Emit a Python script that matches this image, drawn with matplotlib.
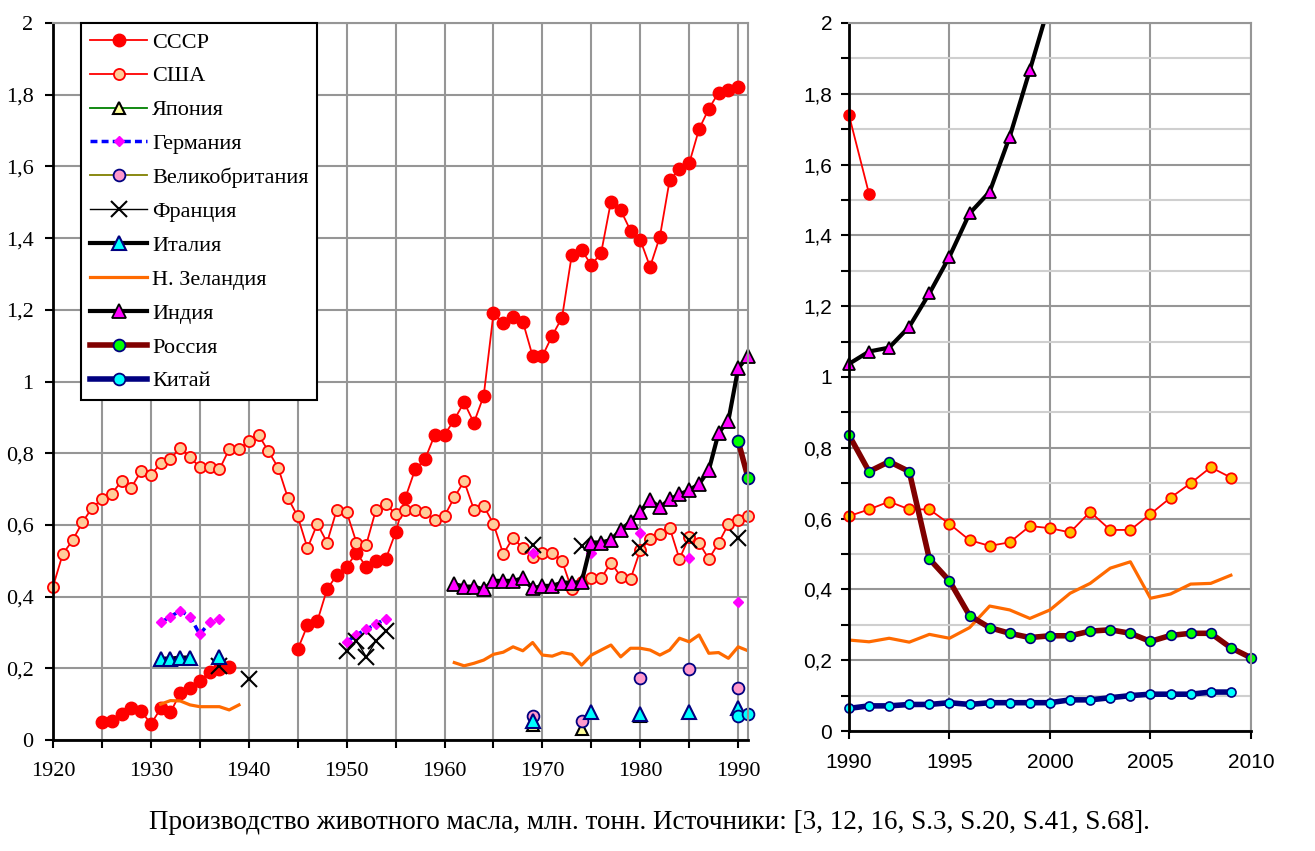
import matplotlib.pyplot as plt
import numpy as np
from matplotlib.ticker import FuncFormatter, MultipleLocator

nan = np.nan

# ---------- left panel: 1920 - 1991 ----------
ussr_years = list(range(1925, 1939)) + [1940] + list(range(1945, 1991))
ussr = [0.049, 0.054, 0.073, 0.088, 0.082, 0.044, 0.088, 0.077, 0.131, 0.144,
        0.165, 0.190, 0.197, 0.203,
        nan,
        0.253, 0.320, 0.331, 0.421, 0.460, 0.483, 0.523, 0.483, 0.500, 0.505,
        0.579, 0.676, 0.755, 0.783, 0.851, 0.851, 0.894, 0.942, 0.885, 0.960,
        1.190, 1.162, 1.179, 1.167, 1.071, 1.071, 1.128, 1.178, 1.353, 1.367,
        1.325, 1.359, 1.502, 1.478, 1.421, 1.395, 1.320, 1.404, 1.562, 1.592,
        1.609, 1.704, 1.761, 1.806, 1.813, 1.822]

usa_years = list(range(1920, 1992))
usa = [0.428, 0.519, 0.557, 0.607, 0.648, 0.671, 0.687, 0.722, 0.704, 0.750,
       0.738, 0.773, 0.784, 0.816, 0.789, 0.761, 0.761, 0.755, 0.811, 0.811,
       0.834, 0.851, 0.806, 0.760, 0.675, 0.624, 0.535, 0.603, 0.551, 0.643,
       0.636, 0.551, 0.545, 0.643, 0.659, 0.630, 0.643, 0.643, 0.636, 0.614,
       0.625, 0.677, 0.722, 0.643, 0.653, 0.603, 0.519, 0.564, 0.535, 0.511,
       0.523, 0.523, 0.500, 0.420, 0.440, 0.451, 0.451, 0.495, 0.456, 0.449,
       0.530, 0.560, 0.575, 0.592, 0.505, 0.567, 0.550, 0.505, 0.550, 0.602,
       0.614, 0.625]

japan_years = [1969, 1970, 1974, 1975, 1980]
japan = [0.042, nan, 0.030, nan, 0.068]

germany_years = list(range(1931, 1938)) + [1940] + list(range(1950, 1955)) + \
    [1960, 1969, 1970, 1975, 1976, 1980, 1981, 1985, 1986, 1990]
germany = [0.328, 0.344, 0.361, 0.344, 0.295, 0.328, 0.337,
           nan,
           0.274, 0.293, 0.309, 0.323, 0.339,
           nan, 0.521, nan, 0.521, nan, 0.578, nan, 0.509, nan, 0.386]

uk_years = [1969, 1970, 1974, 1975, 1980, 1981, 1985, 1986, 1990]
uk = [0.067, nan, 0.054, nan, 0.174, nan, 0.197, nan, 0.146]

france_years = [1937, 1938, 1940, 1945] + list(range(1950, 1955)) + \
    [1960, 1969, 1970, 1974, 1975, 1980, 1981, 1985, 1986, 1990]
france = [0.206, nan, 0.169, nan,
          0.249, 0.277, 0.232, 0.277, 0.305,
          nan, 0.544, nan, 0.542, nan, 0.535, nan, 0.558, nan, 0.564]

italy_years = [1931, 1932, 1933, 1934, 1935, 1937, 1938, 1969, 1970, 1975,
               1976, 1980, 1981, 1985, 1986, 1990]
italy = [0.227, 0.227, 0.230, 0.230, nan, 0.232, nan, 0.054, nan, 0.079,
         nan, 0.074, nan, 0.079, nan, 0.088]

nz_years = list(range(1931, 1940)) + [1950] + list(range(1961, 1992))
nz = [0.100, 0.110, 0.109, 0.098, 0.093, 0.093, 0.093, 0.084, 0.098,
      nan,
      0.216, 0.207, 0.214, 0.223, 0.239, 0.245, 0.260, 0.249, 0.272, 0.237,
      0.234, 0.244, 0.239, 0.209, 0.237, 0.251, 0.265, 0.232, 0.256, 0.256,
      0.251, 0.237, 0.251, 0.284, 0.274, 0.293, 0.242, 0.244, 0.228, 0.260,
      0.249]

india_years = list(range(1961, 1992))
india = [0.435, 0.428, 0.428, 0.420, 0.444, 0.444, 0.444, 0.451, 0.423, 0.430,
         0.430, 0.439, 0.439, 0.440, 0.551, 0.551, 0.558, 0.586, 0.609, 0.637,
         0.669, 0.649, 0.671, 0.685, 0.697, 0.714, 0.753, 0.857, 0.891, 1.037,
         1.071]

russia_years = [1990, 1991]
russia = [0.834, 0.732]

china_years = [1990, 1991]
china = [0.067, 0.072]

# ---------- right panel: 1990 - 2010 ----------
ussr_r_years = [1990, 1991]
ussr_r = [1.740, 1.517]

usa_r_years = list(range(1990, 2010))
usa_r = [0.607, 0.626, 0.648, 0.626, 0.626, 0.585, 0.539, 0.523, 0.533, 0.579,
         0.573, 0.561, 0.619, 0.568, 0.568, 0.613, 0.659, 0.700, 0.745, 0.716]

nz_r_years = list(range(1990, 2010))
nz_r = [0.257, 0.252, 0.262, 0.251, 0.273, 0.262, 0.292, 0.353, 0.342, 0.318,
        0.342, 0.389, 0.417, 0.460, 0.478, 0.375, 0.387, 0.415, 0.417, 0.440]

india_r_years = list(range(1990, 2001))
india_r = [1.037, 1.072, 1.083, 1.142, 1.236, 1.340, 1.462, 1.523, 1.679,
           1.867, 2.06]

russia_r_years = list(range(1990, 2011))
russia_r = [0.836, 0.733, 0.761, 0.733, 0.486, 0.424, 0.326, 0.292, 0.276,
            0.264, 0.269, 0.269, 0.282, 0.286, 0.276, 0.253, 0.270, 0.276,
            0.276, 0.235, 0.207]

china_r_years = list(range(1990, 2010))
china_r = [0.064, 0.071, 0.071, 0.075, 0.075, 0.080, 0.075, 0.080, 0.080,
           0.080, 0.080, 0.088, 0.088, 0.094, 0.100, 0.104, 0.104, 0.104,
           0.110, 0.110]

caption = 'Производство животного масла, млн. тонн. Источники: [3, 12, 16, S.3, S.20, S.41, S.68].'

SERIF = 'Liberation Serif'
SANS = 'Liberation Sans'
GRID = '#969696'


def comma(v, pos):
    s = ('%.1f' % v).rstrip('0').rstrip('.')
    return s.replace('.', ',')


fig = plt.figure(figsize=(13.15, 8.51), dpi=100)
ax = fig.add_axes([0.0403, 0.1304, 0.5285, 0.8425])
ax2 = fig.add_axes([0.6456, 0.141, 0.3057, 0.832])

# left panel series
ax.plot(ussr_years, ussr, color='red', lw=1.3, marker='o', ms=9,
        mfc='red', mec='red', label='СССР', clip_on=False)
ax.plot(usa_years, usa, color='red', lw=1.3, marker='o', ms=8,
        mfc='#FFCC99', mec='red', mew=1.3, label='США', clip_on=False)
ax.plot(japan_years, japan, color='green', lw=1.3, marker='^', ms=9,
        mfc='#FFFF99', mec='black', mew=1.5, label='Япония')
ax.plot(germany_years, germany, color='blue', lw=2.5, ls=(0, (2, 1.2)),
        marker='D', ms=5, mfc='magenta', mec='magenta', label='Германия')
ax.plot(uk_years, uk, color='olive', lw=1.3, marker='o', ms=8.5,
        mfc='#FF99CC', mec='#000080', mew=1.3, label='Великобритания')
ax.plot(france_years, france, color='black', lw=1.0, marker='x', ms=11,
        mew=1.5, label='Франция')
ax.plot(italy_years, italy, color='black', lw=3, marker='^', ms=9.5,
        mfc='cyan', mec='#000080', mew=1.5, label='Италия')
ax.plot(nz_years, nz, color='#FF6A00', lw=2.3, label='Н. Зеландия')
ax.plot(india_years, india, color='black', lw=3, marker='^', ms=9.5,
        mfc='magenta', mec='black', mew=1.3, label='Индия', clip_on=False)
ax.plot(russia_years, russia, color='#800000', lw=4, marker='o', ms=8.5,
        mfc='#00FF00', mec='#000080', mew=1.3, label='Россия', clip_on=False)
ax.plot(china_years, china, color='#000080', lw=4, marker='o', ms=8.5,
        mfc='cyan', mec='#000080', mew=1.3, label='Китай', clip_on=False)

ax.set_xlim(1920, 1991)
ax.set_ylim(0, 2)
ax.set_xticks(range(1920, 1995, 5))
ax.set_xticklabels([str(y) if y % 10 == 0 else '' for y in range(1920, 1995, 5)])
ax.set_yticks(np.arange(0, 2.01, 0.2))
ax.yaxis.set_major_formatter(FuncFormatter(comma))
ax.grid(True, color=GRID, lw=1.5)
ax.set_axisbelow(True)
ax.tick_params(direction='out', length=6, width=1.5, pad=8, labelsize=16)
ax.tick_params(axis='x', pad=10)
for lab in ax.get_xticklabels() + ax.get_yticklabels():
    lab.set_family(SERIF)
for s in ('left', 'bottom'):
    ax.spines[s].set_linewidth(2)
for s in ('top', 'right'):
    ax.spines[s].set_color(GRID)
    ax.spines[s].set_linewidth(1.5)

leg = ax.legend(loc='upper left', bbox_to_anchor=(0.04, 1.0), borderaxespad=0,
                prop={'family': SERIF, 'size': 16}, fancybox=False,
                framealpha=1, edgecolor='black', handlelength=2.6,
                labelspacing=0.6, handletextpad=0.2, borderpad=0.4)
leg.get_frame().set_linewidth(1.5)

# right panel series
ax2.plot(ussr_r_years, ussr_r, color='red', lw=1.3, marker='o', ms=8,
         mfc='red', mec='red', clip_on=False)
ax2.plot(usa_r_years, usa_r, color='red', lw=1.3, marker='o', ms=7.5,
         mfc='#FFC000', mec='red', mew=1.3, clip_on=False)
ax2.plot(nz_r_years, nz_r, color='#FF6A00', lw=2.3)
# India: line clipped at the top, markers kept whole at the left edge
ax2.plot(india_r_years, india_r, color='black', lw=3)
ax2.plot(india_r_years, india_r, ls='none', marker='^', ms=8.5,
         mfc='magenta', mec='black', mew=1.3, markevery=range(10),
         clip_on=False)
ax2.plot(russia_r_years, russia_r, color='#800000', lw=4, marker='o', ms=7,
         mfc='#00FF00', mec='#000080', mew=1.2, clip_on=False)
ax2.plot(china_r_years, china_r, color='#000080', lw=4, marker='o', ms=6.5,
         mfc='cyan', mec='#000080', mew=1.2, clip_on=False)

ax2.set_xlim(1990, 2010)
ax2.set_ylim(0, 2)
ax2.set_xticks(range(1990, 2011, 5))
ax2.set_yticks(np.arange(0, 2.01, 0.2))
ax2.yaxis.set_minor_locator(MultipleLocator(0.1))
ax2.yaxis.set_major_formatter(FuncFormatter(comma))
ax2.grid(True, which='major', color=GRID, lw=1.5)
ax2.grid(True, which='minor', axis='y', color='#cfcfcf', lw=1.5)
ax2.set_axisbelow(True)
ax2.tick_params(which='both', direction='out', length=6, width=1.5, pad=6,
                labelsize=15)
ax2.tick_params(axis='x', pad=10)
for lab in ax2.get_xticklabels() + ax2.get_yticklabels():
    lab.set_family(SANS)
for s in ('left', 'bottom'):
    ax2.spines[s].set_linewidth(2)
for s in ('top', 'right'):
    ax2.spines[s].set_color(GRID)
    ax2.spines[s].set_linewidth(1.5)

fig.text(0.494, 0.034, caption, ha='center', va='center', family=SERIF,
         fontsize=19.5)

fig.savefig('out.png', dpi=100)
